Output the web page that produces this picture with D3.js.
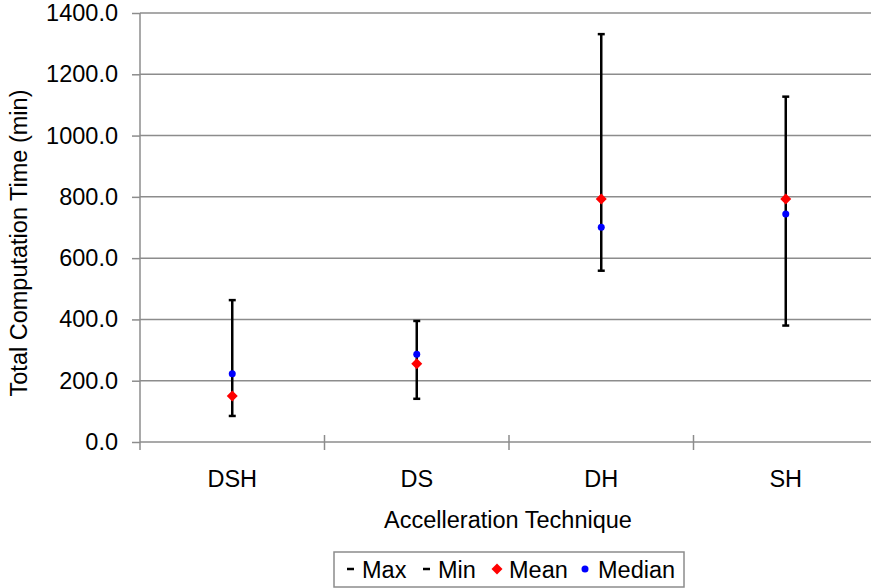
<!DOCTYPE html>
<html>
<head>
<meta charset="utf-8">
<script src="https://cdn.jsdelivr.net/npm/d3@7"></script>
<style>
    body{ margin: 0; background: #fff; }
    svg text{ font-family: "Liberation Sans", Arial, sans-serif; fill: #000; }
</style>
</head>
<body>
<div id="chart"></div>
<script>
const categories = ["DSH", "DS", "DH", "SH"];
const maxValues = [463, 395, 1331, 1127];
const minValues = [85, 141, 559, 380];
const meanValues = [150, 255, 793, 793];
const medianValues = [223, 286, 701, 744];
const yTicks = [0, 200, 400, 600, 800, 1000, 1200, 1400];
const legendLabels = ["Max", "Min", "Mean", "Median"];

const width = 871, height = 588;
const margin = {top: 13, left: 140, bottom: 146};
const plotBottom = height - margin.bottom;
const fontSize = 23.5;

const svg = d3.select("#chart").append("svg")
    .attr("width", width)
    .attr("height", height);

const xScale = d3.scaleBand()
    .domain(categories)
    .range([margin.left, margin.left + 4 * 184.5]);

const yScale = d3.scaleLinear()
    .domain([0, 1400])
    .range([plotBottom, margin.top]);

// gridlines
svg.append("g").classed("grid", true)
    .selectAll("line")
    .data(yTicks.filter(d => d > 0))
    .enter().append("line")
        .attr("x1", margin.left).attr("x2", width)
        .attr("y1", d => yScale(d)).attr("y2", d => yScale(d))
        .attr("stroke", "#8c8c8c")
        .attr("stroke-width", 1.5);

// y axis
const yAxis = svg.append("g")
    .attr("transform", `translate(${margin.left},0)`)
    .call(d3.axisLeft(yScale).tickValues(yTicks).tickSize(8).tickPadding(14).tickFormat(d3.format(".1f")));
yAxis.select(".domain").remove();
yAxis.selectAll(".tick line").attr("stroke", "#8c8c8c").attr("stroke-width", 1.5);
yAxis.selectAll("text").attr("font-size", fontSize).attr("font-family", null).attr("fill", "#000");
svg.append("line")
    .attr("x1", margin.left).attr("x2", margin.left)
    .attr("y1", margin.top).attr("y2", plotBottom + 8)
    .attr("stroke", "#8c8c8c").attr("stroke-width", 1.5);

// x axis
svg.append("line")
    .attr("x1", margin.left).attr("x2", width)
    .attr("y1", plotBottom).attr("y2", plotBottom)
    .attr("stroke", "#8c8c8c").attr("stroke-width", 1.5);
svg.append("g").selectAll("line")
    .data(categories.slice(1).concat(["end"]))
    .enter().append("line")
        .attr("x1", (d, i) => xScale(categories[0]) + (i + 1) * xScale.bandwidth())
        .attr("x2", (d, i) => xScale(categories[0]) + (i + 1) * xScale.bandwidth())
        .attr("y1", plotBottom - 7).attr("y2", plotBottom + 8)
        .attr("stroke", "#8c8c8c").attr("stroke-width", 1.5);
svg.append("g").selectAll("text")
    .data(categories)
    .enter().append("text")
        .attr("x", d => xScale(d) + xScale.bandwidth() / 2)
        .attr("y", 487)
        .attr("text-anchor", "middle")
        .attr("font-size", fontSize)
        .text(d => d);

// axis titles
svg.append("text")
    .attr("x", 508).attr("y", 528)
    .attr("text-anchor", "middle")
    .attr("font-size", fontSize)
    .text("Accelleration Technique");
svg.append("text")
    .attr("transform", "translate(27,243) rotate(-90)")
    .attr("text-anchor", "middle")
    .attr("font-size", fontSize)
    .text("Total Computation Time (min)");

// error bars
const cx = i => xScale(categories[i]) + xScale.bandwidth() / 2;
const bars = svg.append("g").classed("bars", true);
categories.forEach((c, i) => {
    bars.append("line")
        .attr("x1", cx(i)).attr("x2", cx(i))
        .attr("y1", yScale(maxValues[i])).attr("y2", yScale(minValues[i]))
        .attr("stroke", "#000").attr("stroke-width", 2.5);
    [maxValues[i], minValues[i]].forEach(v => {
        bars.append("line")
            .attr("x1", cx(i) - 3.5).attr("x2", cx(i) + 3.5)
            .attr("y1", yScale(v)).attr("y2", yScale(v))
            .attr("stroke", "#000").attr("stroke-width", 2.5);
    });
});

const diamond = "M0,-5.5L5.5,0L0,5.5L-5.5,0Z";
svg.append("g").selectAll("circle")
    .data(medianValues)
    .enter().append("circle")
        .attr("cx", (d, i) => cx(i))
        .attr("cy", d => yScale(d))
        .attr("r", 3.5)
        .attr("fill", "#0000ff");
svg.append("g").selectAll("path")
    .data(meanValues)
    .enter().append("path")
        .attr("d", diamond)
        .attr("transform", (d, i) => `translate(${cx(i)},${yScale(d)})`)
        .attr("fill", "#ff0000");

// legend
const legend = svg.append("g").classed("legend", true);
legend.append("rect")
    .attr("x", 334).attr("y", 552)
    .attr("width", 350).attr("height", 35)
    .attr("fill", "#fff").attr("stroke", "#8c8c8c").attr("stroke-width", 1.5);
const legendX = [362, 438, 509, 598];
legendLabels.forEach((label, i) => {
    legend.append("text")
        .attr("x", legendX[i]).attr("y", 578)
        .attr("font-size", fontSize)
        .text(label);
});
[347, 423].forEach(x => {
    legend.append("line")
        .attr("x1", x).attr("x2", x + 7)
        .attr("y1", 569).attr("y2", 569)
        .attr("stroke", "#000").attr("stroke-width", 2.5);
});
legend.append("path").attr("d", diamond).attr("transform", "translate(497,569)").attr("fill", "#ff0000");
legend.append("circle").attr("cx", 585).attr("cy", 569).attr("r", 3.5).attr("fill", "#0000ff");
</script>
</body>
</html>
